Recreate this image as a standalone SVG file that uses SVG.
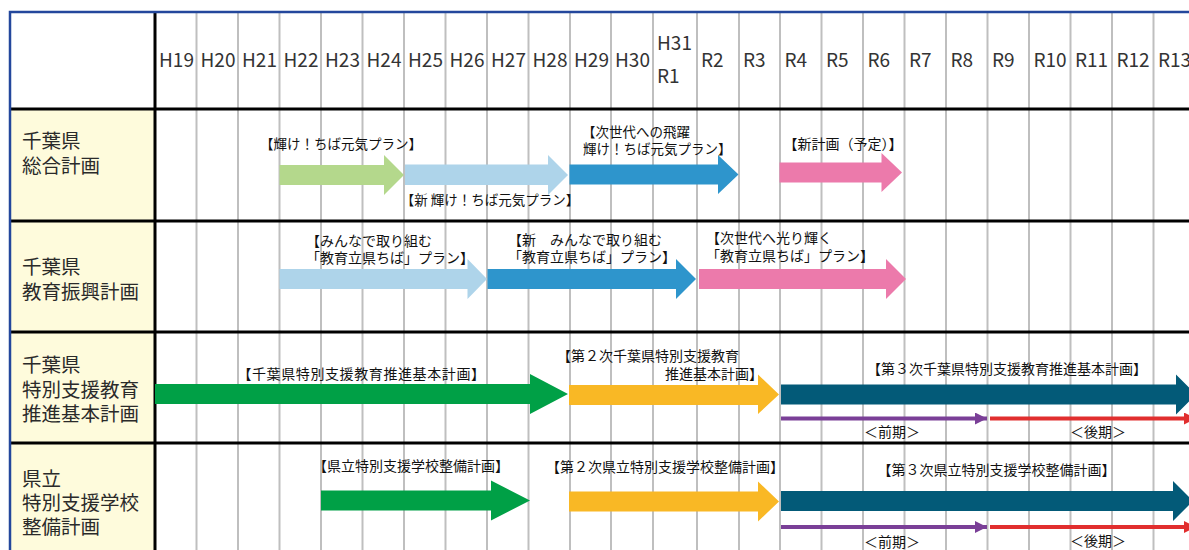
<svg xmlns="http://www.w3.org/2000/svg" width="1189" height="550" viewBox="0 0 1189 550">
<style>
text{font-family:"Noto Sans CJK JP","Noto Sans",sans-serif}
.grid{stroke:#BFBFBF;stroke-width:2}
.bk{stroke:#000;stroke-width:3}
.hd{font-size:19px;fill:#333}
.rl{font-size:19.5px;fill:#2a2a2a}
.lb{font-size:14px;fill:#111}
.s{font-size:13.5px}
.mid{text-anchor:middle}
.end{text-anchor:end}
</style>
<defs>
<marker id="mp" viewBox="0 0 12 12" refX="12" refY="6" markerWidth="12" markerHeight="12" markerUnits="userSpaceOnUse" orient="auto"><path d="M0,0 L12,6 L0,12 Z" fill="#7A3F97"/></marker>
<marker id="mr" viewBox="0 0 12 12" refX="12" refY="6" markerWidth="12" markerHeight="12" markerUnits="userSpaceOnUse" orient="auto"><path d="M0,0 L12,6 L0,12 Z" fill="#E12E2E"/></marker>
</defs>
<rect x="0" y="0" width="1189" height="550" fill="#fff"/>
<g id="table">
<rect x="11" y="110" width="144" height="440" fill="#FEFBDC"/>
<g class="grid">
<line x1="196.5" y1="12" x2="196.5" y2="550"/><line x1="238" y1="12" x2="238" y2="550"/><line x1="279.5" y1="12" x2="279.5" y2="550"/><line x1="321" y1="12" x2="321" y2="550"/><line x1="362.5" y1="12" x2="362.5" y2="550"/><line x1="404" y1="12" x2="404" y2="550"/><line x1="445.5" y1="12" x2="445.5" y2="550"/><line x1="487" y1="12" x2="487" y2="550"/><line x1="528.5" y1="12" x2="528.5" y2="550"/><line x1="570" y1="12" x2="570" y2="550"/><line x1="611" y1="12" x2="611" y2="550"/><line x1="653" y1="12" x2="653" y2="550"/><line x1="697" y1="12" x2="697" y2="550"/><line x1="739" y1="12" x2="739" y2="550"/><line x1="780" y1="12" x2="780" y2="550"/><line x1="821.5" y1="12" x2="821.5" y2="550"/><line x1="863" y1="12" x2="863" y2="550"/><line x1="904.5" y1="12" x2="904.5" y2="550"/><line x1="946" y1="12" x2="946" y2="550"/><line x1="987.5" y1="12" x2="987.5" y2="550"/><line x1="1029" y1="12" x2="1029" y2="550"/><line x1="1070.5" y1="12" x2="1070.5" y2="550"/><line x1="1112" y1="12" x2="1112" y2="550"/><line x1="1153.5" y1="12" x2="1153.5" y2="550"/>
</g>
<g class="bk">
<line x1="10" y1="109" x2="1189" y2="109"/><line x1="10" y1="221" x2="1189" y2="221"/><line x1="10" y1="332" x2="1189" y2="332"/><line x1="10" y1="443" x2="1189" y2="443"/><line x1="155" y1="12" x2="155" y2="550"/>
</g>
<path d="M10,550 V12 H1189" fill="none" stroke="#23479C" stroke-width="2.5"/>
</g>
<g id="header" class="hd">
<text x="159" y="67">H19</text><text x="200.5" y="67">H20</text><text x="242" y="67">H21</text><text x="283.5" y="67">H22</text><text x="325" y="67">H23</text><text x="366.5" y="67">H24</text><text x="408" y="67">H25</text><text x="449.5" y="67">H26</text><text x="491" y="67">H27</text><text x="532.5" y="67">H28</text><text x="574" y="67">H29</text><text x="615" y="67">H30</text><text x="657" y="50">H31</text><text x="657" y="83">R1</text><text x="701" y="67">R2</text><text x="743" y="67">R3</text><text x="784.5" y="67">R4</text><text x="826" y="67">R5</text><text x="867.5" y="67">R6</text><text x="909" y="67">R7</text><text x="950.5" y="67">R8</text><text x="992" y="67">R9</text><text x="1033.5" y="67">R10</text><text x="1075" y="67">R11</text><text x="1116.5" y="67">R12</text><text x="1158" y="67">R13</text>
</g>
<g id="row-labels" class="rl">
<text x="22" y="148">千葉県</text><text x="22" y="173">総合計画</text>
<text x="22" y="274">千葉県</text><text x="22" y="299">教育振興計画</text>
<text x="22" y="372">千葉県</text><text x="22" y="396.5">特別支援教育</text><text x="22" y="421">推進基本計画</text>
<text x="22" y="486">県立</text><text x="22" y="510">特別支援学校</text><text x="22" y="533.5">整備計画</text>
</g>
<g id="plan-sougou-1">
<polygon points="279.5,165 384,165 384,155 404,175 384,195 384,185 279.5,185" fill="#B4D88C"/>
<text class="lb s mid" x="341" y="149">【輝け！ちば元気プラン】</text>
</g>
<g id="plan-sougou-2">
<polygon points="405,164.5 548,164.5 548,155 568,175 548,195 548,185 405,185" fill="#AED4EA"/>
<text class="lb s mid" x="490" y="205">【新 輝け！ちば元気プラン】</text>
</g>
<g id="plan-sougou-3">
<polygon points="569.5,164.5 718,164.5 718,155 738.5,174.5 718,194 718,184.5 569.5,184.5" fill="#2E95CC"/>
<text class="lb s" x="582" y="137">【次世代への飛躍</text>
<text class="lb s" x="583" y="154">輝け！ちば元気プラン】</text>
</g>
<g id="plan-sougou-4">
<polygon points="779.5,162.5 881.5,162.5 881.5,153 902,172.5 881.5,192 881.5,182.5 779.5,182.5" fill="#EC7AAB"/>
<text class="lb mid" x="843" y="149">【新計画（予定）】</text>
</g>
<g id="plan-kyouiku-1">
<polygon points="279.5,269 467.5,269 467.5,259 487,279 467.5,299 467.5,289 279.5,289" fill="#AED4EA"/>
<text class="lb" x="306" y="246">【みんなで取り組む</text>
<text class="lb" x="306" y="263">「教育立県ちば」プラン】</text>
</g>
<g id="plan-kyouiku-2">
<polygon points="487.5,269 676,269 676,259 696,279 676,299 676,289 487.5,289" fill="#2E95CC"/>
<text class="lb" x="508" y="245">【新　みんなで取り組む</text>
<text class="lb" x="508" y="262">「教育立県ちば」プラン】</text>
</g>
<g id="plan-kyouiku-3">
<polygon points="699,269 886,269 886,259 906,279 886,299 886,289 699,289" fill="#EC7AAB"/>
<text class="lb" x="706" y="243">【次世代へ光り輝く</text>
<text class="lb" x="706" y="261">「教育立県ちば」プラン】</text>
</g>
<g id="plan-tokushi-1">
<polygon points="155,384 530,384 530,374 568,394 530,414 530,404 155,404" fill="#00A046"/>
<text class="lb mid" x="361.5" y="379" style="letter-spacing:0.6px">【千葉県特別支援教育推進基本計画】</text>
</g>
<g id="plan-tokushi-2">
<polygon points="569,385 758,385 758,374.5 779,394.5 758,414 758,405 569,405" fill="#F9B825"/>
<text class="lb" x="557" y="361">【第２次千葉県特別支援教育</text>
<text class="lb end" x="763" y="379">推進基本計画】</text>
</g>
<g id="plan-tokushi-3">
<polygon points="781,384.5 1176,384.5 1176,374.5 1196,394.5 1176,414.5 1176,404.5 781,404.5" fill="#035A78"/>
<text class="lb mid" x="1007" y="374">【第３次千葉県特別支援教育推進基本計画】</text>
<text class="lb mid" x="892" y="437">＜前期＞</text>
<text class="lb mid" x="1098" y="437">＜後期＞</text>
</g>
<g id="plan-seibi-1">
<polygon points="321,490.5 491,490.5 491,480.5 530,500.5 491,520.5 491,510.5 321,510.5" fill="#00A046"/>
<text class="lb mid" x="411" y="471">【県立特別支援学校整備計画】</text>
</g>
<g id="plan-seibi-2">
<polygon points="569,491.5 758,491.5 758,481.5 779,501.5 758,521.5 758,511.5 569,511.5" fill="#F9B825"/>
<text class="lb mid" x="665" y="472">【第２次県立特別支援学校整備計画】</text>
</g>
<g id="plan-seibi-3">
<polygon points="781,491 1173,491 1173,481 1193,501 1173,521 1173,511 781,511" fill="#035A78"/>
<text class="lb mid" x="996.5" y="475">【第３次県立特別支援学校整備計画】</text>
<text class="lb mid" x="892" y="547">＜前期＞</text>
<text class="lb mid" x="1098" y="546">＜後期＞</text>
</g>
<g id="connectors" stroke-width="4" fill="none">
<line x1="781" y1="418.5" x2="987" y2="418.5" stroke="#7A3F97" marker-end="url(#mp)"/>
<line x1="990" y1="418.5" x2="1196" y2="418.5" stroke="#E12E2E" marker-end="url(#mr)"/>
<line x1="781" y1="527" x2="987" y2="527" stroke="#7A3F97" marker-end="url(#mp)"/>
<line x1="990" y1="527" x2="1196" y2="527" stroke="#E12E2E" marker-end="url(#mr)"/>
</g>
</svg>
